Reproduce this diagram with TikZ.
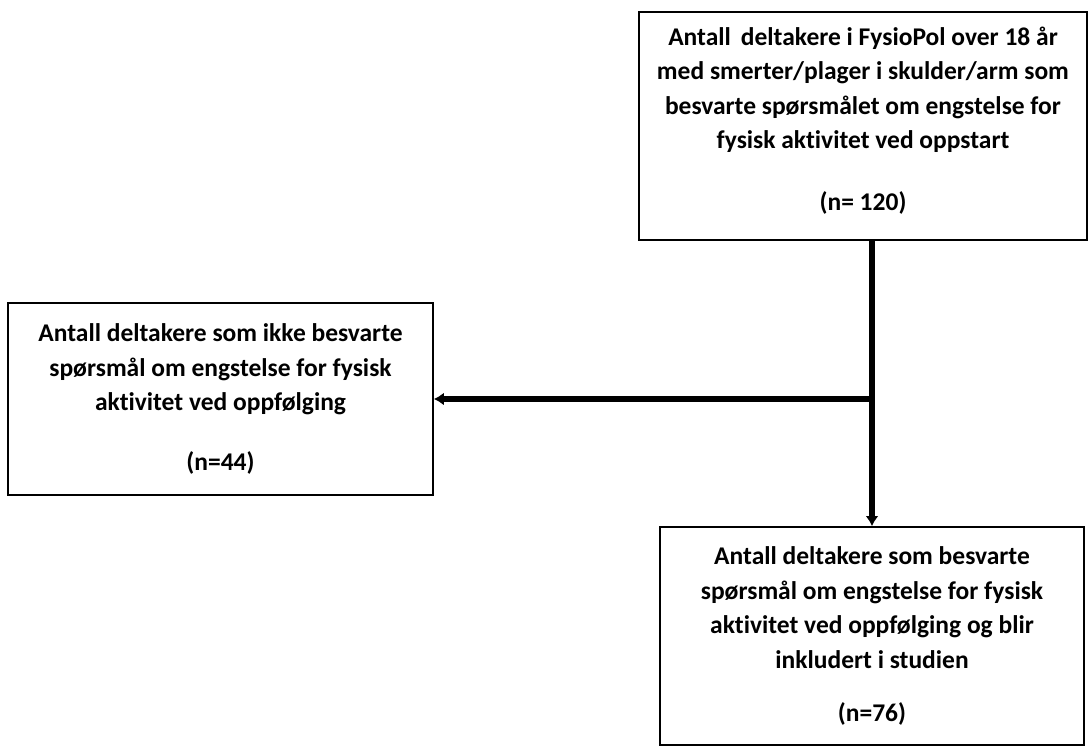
\documentclass[tikz,border=0pt]{standalone}
\usepackage{fontspec}
\setmainfont{Carlito}[Ligatures=NoCommon]
\usetikzlibrary{positioning,calc,arrows.meta}

\begin{document}
\begin{tikzpicture}[
  x=1pt, y=-1pt,
  flowbox/.style={
    draw, line width=1.8pt, fill=white,
    align=center, inner sep=0pt,
    font=\fontsize{25.5}{34.5}\selectfont\bfseries
  },
  arr/.style={-{Latex[length=10pt,width=13pt]}, line width=5.5pt},
  trunk/.style={line width=5.5pt},
]
\useasboundingbox (0,0) rectangle (1089,749);

%% --- Boxes ----------------------------------------------------------
\node[flowbox, minimum width=448pt, minimum height=228pt] (start) at (863,126)
  {Antall\,\ deltakere i FysioPol over 18 år\\
   med smerter/plager i skulder/arm som\\
   besvarte spørsmålet om engstelse for\\
   fysisk aktivitet ved oppstart\\[27pt]
   (n= 120)\\[-20pt]\mbox{}};

\node[flowbox, minimum width=425pt, minimum height=192pt] (excl) at (220.5,399)
  {Antall deltakere som ikke besvarte\\
   spørsmål om engstelse for fysisk\\
   aktivitet ved oppfølging\\[25pt]
   (n=44)};

\node[flowbox, minimum width=424pt, minimum height=218pt] (incl) at (872,636)
  {Antall deltakere som besvarte\\
   spørsmål om engstelse for fysisk\\
   aktivitet ved oppfølging og blir\\
   inkludert i studien\\[19pt]
   (n=76)};

%% --- Connectors -----------------------------------------------------
\coordinate (split) at (incl.north |- excl.east);
\draw[trunk] (start.south -| incl.north) -- (split);
\draw[arr] (split) -- (incl.north);
\draw[arr] (split) -- (excl.east);

\end{tikzpicture}
\end{document}
